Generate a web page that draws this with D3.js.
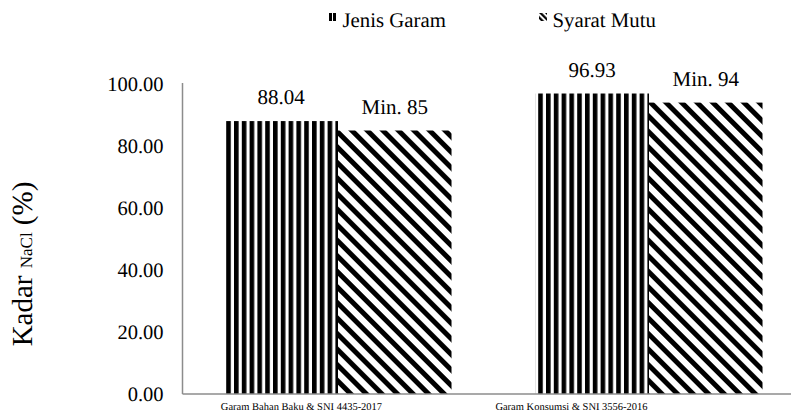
<!DOCTYPE html>
<html>
<head>
<meta charset="utf-8">
<script src="https://cdn.jsdelivr.net/npm/d3@7"></script>
<style>
  html, body { margin: 0; padding: 0; background: #fff; }
  svg { display: block; text-rendering: geometricPrecision; }
</style>
</head>
<body>
<svg id="chart" width="791" height="415"></svg>
<script>
// Data
const categories = ["Garam Bahan Baku & SNI 4435-2017", "Garam Konsumsi & SNI 3556-2016"];
const seriesNames = ["Jenis Garam", "Syarat Mutu"];
const jenisGaram = [88.04, 96.93];
const syaratMutu = [85, 94];
const valueLabels = [["88.04", "96.93"], ["Min. 85", "Min. 94"]];
const yTicks = [0, 20, 40, 60, 80, 100];

const FONT = "'Liberation Serif', 'Times New Roman', serif";
const svg = d3.select("#chart");
const W = 791, H = 415;
const margin = { left: 182.5, top: 83, bottom: 21 };
const plotRight = 804.5;
const y0 = H - margin.bottom;

// Fill patterns
const defs = svg.append("defs");
function stripePattern(id, period, black, rotate) {
  const p = defs.append("pattern")
    .attr("id", id).attr("patternUnits", "userSpaceOnUse")
    .attr("width", period).attr("height", 20);
  if (rotate) p.attr("patternTransform", `rotate(${rotate})`);
  p.append("rect").attr("width", period).attr("height", 20).attr("fill", "#fff");
  p.append("rect").attr("width", black).attr("height", 20).attr("fill", "#000");
}
stripePattern("pat-vert", 7.8, 4.6, 0);
stripePattern("pat-diag", 11, 5, -45);
stripePattern("leg-vert", 4, 3, 0);
stripePattern("leg-diag", 4.2, 2.2, -45);

const fills = ["url(#pat-vert)", "url(#pat-diag)"];
const legendFills = ["url(#leg-vert)", "url(#leg-diag)"];

// Scales
const x = d3.scaleBand().domain(categories)
  .range([margin.left, plotRight]).paddingInner(0.27).paddingOuter(0.135);
const xSub = d3.scaleBand().domain(seriesNames).range([0, x.bandwidth()]);
const y = d3.scaleLinear().domain([0, 100]).range([y0, y0 - 310]);

const series = [jenisGaram, syaratMutu];

// Bars and value labels
seriesNames.forEach((name, si) => {
  svg.append("g").selectAll("rect")
    .data(categories)
    .join("rect")
    .attr("x", c => x(c) + xSub(name))
    .attr("y", (c, i) => y(series[si][i]))
    .attr("width", xSub.bandwidth())
    .attr("height", (c, i) => y(0) - y(series[si][i]))
    .attr("fill", fills[si]);

  svg.append("g").selectAll("text")
    .data(categories)
    .join("text")
    .attr("x", c => x(c) + xSub(name) + xSub.bandwidth() / 2)
    .attr("y", (c, i) => y(series[si][i]) - 17)
    .attr("text-anchor", "middle")
    .style("font-family", FONT)
    .style("font-size", "21px")
    .text((c, i) => valueLabels[si][i]);
});

// Y axis
const yAxis = svg.append("g")
  .attr("transform", `translate(${margin.left},0)`)
  .call(d3.axisLeft(y).tickValues(yTicks).tickFormat(d3.format(".2f")).tickSize(0).tickPadding(19));
yAxis.select(".domain").remove();
yAxis.selectAll("text")
  .style("font-family", FONT)
  .style("font-size", "20.5px")
  .attr("fill", "#000");

svg.append("line")
  .attr("x1", margin.left).attr("x2", margin.left)
  .attr("y1", margin.top).attr("y2", y0)
  .attr("stroke", "#8c8c8c").attr("stroke-width", 1.5);

// Baseline
svg.append("line")
  .attr("x1", margin.left).attr("x2", plotRight)
  .attr("y1", y0).attr("y2", y0)
  .attr("stroke", "#8c8c8c").attr("stroke-width", 1.5);

// Category labels
const xLabel = d3.scaleBand().domain(categories)
  .range([margin.left - 16, margin.left + 524]);
svg.append("g").selectAll("text")
  .data(categories)
  .join("text")
  .attr("x", c => xLabel(c) + xLabel.bandwidth() / 2)
  .attr("y", y0 + 16)
  .attr("text-anchor", "middle")
  .style("font-family", FONT)
  .style("font-size", "10.5px")
  .text(c => c);

// Y axis title
const yTitle = svg.append("text")
  .attr("transform", `translate(32,264) rotate(-90)`)
  .attr("text-anchor", "middle")
  .style("font-family", FONT);
yTitle.append("tspan").style("font-size", "29px").text("Kadar ");
yTitle.append("tspan").style("font-size", "17px").text("NaCl");
yTitle.append("tspan").style("font-size", "29px").text(" (%)");

// Legend
const legendX = [329, 539];
seriesNames.forEach((name, i) => {
  const g = svg.append("g").attr("transform", `translate(${legendX[i]},13)`);
  g.append("rect").attr("width", 8).attr("height", 8).attr("fill", legendFills[i]);
  g.append("text").attr("x", 13.5).attr("y", 13.5)
    .style("font-family", FONT)
    .style("font-size", "20.8px")
    .text(name);
});
</script>
</body>
</html>
